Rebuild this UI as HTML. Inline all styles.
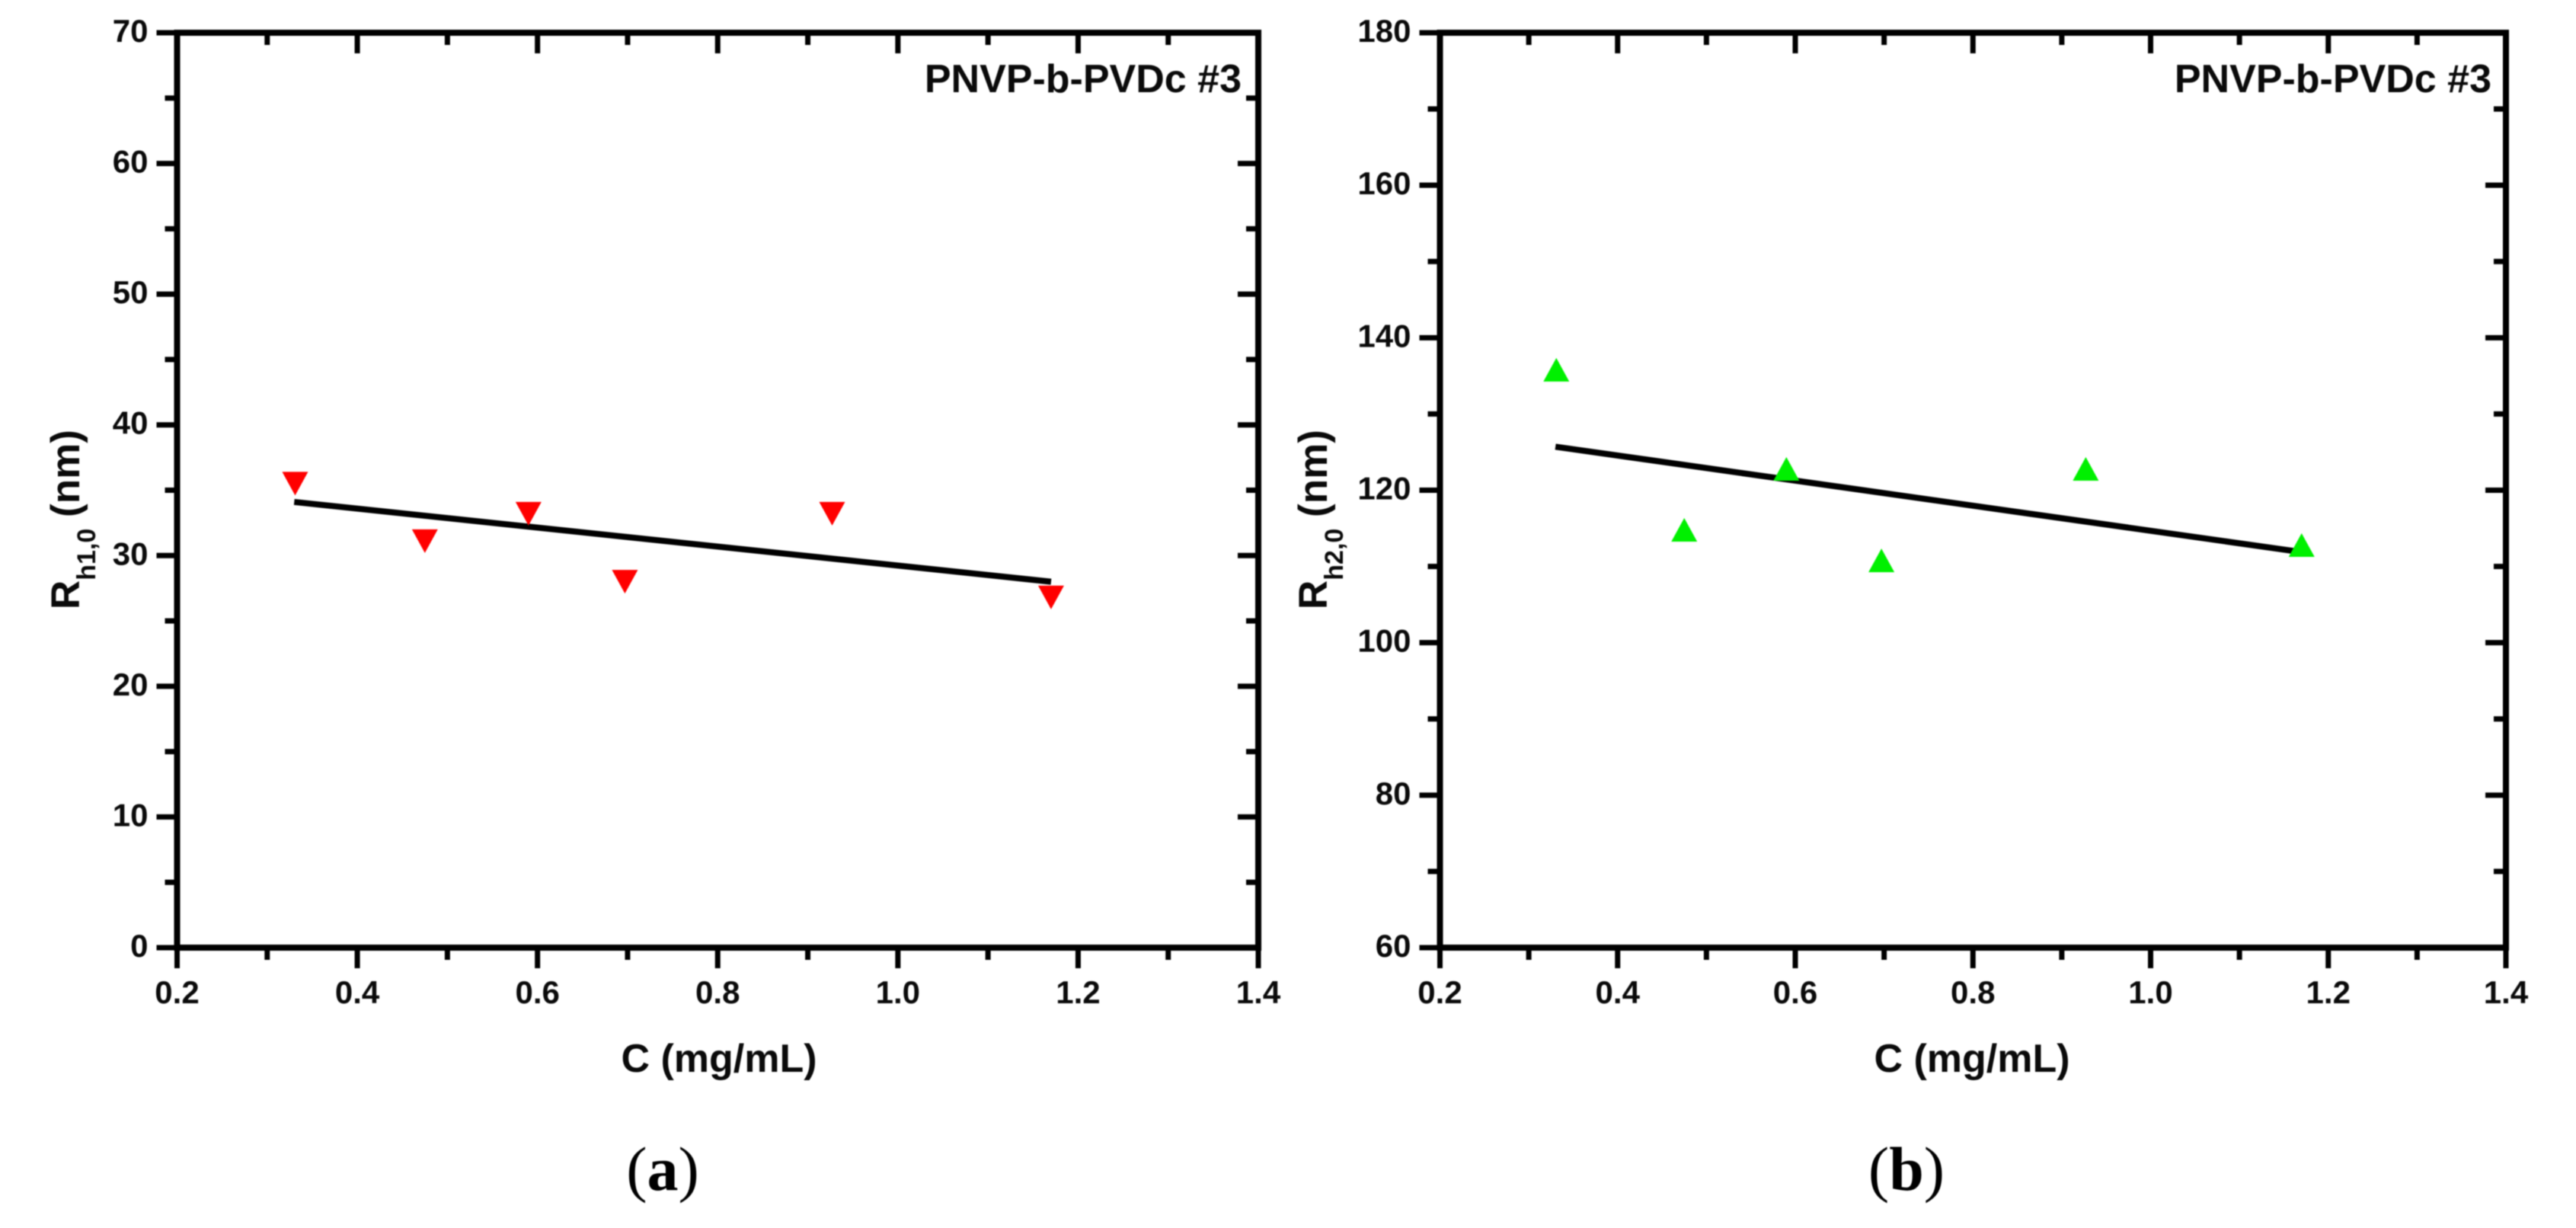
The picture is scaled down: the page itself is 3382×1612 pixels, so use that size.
<!DOCTYPE html>
<html lang="en">
<head>
<meta charset="utf-8">
<title>Rh vs C, PNVP-b-PVDc #3</title>
<style>
html,body{margin:0;padding:0;background:#fff;width:3382px;height:1612px;overflow:hidden}
svg{display:block;filter:blur(0.8px)}
text{font-family:"Liberation Sans",sans-serif;font-weight:700;fill:#0a0a0a}
.tick{font-size:42px}
.title{font-size:52px}
.ytitle{font-size:53px}
.note{font-size:52px}
.cap{font-family:"Liberation Serif",serif;font-size:82px;font-weight:400;fill:#000}
</style>
</head>
<body>
<svg id="fig" xmlns="http://www.w3.org/2000/svg" width="3382" height="1612" viewBox="0 0 3382 1612">
  <rect width="3382" height="1612" fill="#fff"/>
  <g id="panel-a"></g>
  <g id="panel-b"></g>
  <text class="note" x="1630" y="121" text-anchor="end">PNVP-b-PVDc #3</text>
  <text class="note" x="3271" y="121" text-anchor="end">PNVP-b-PVDc #3</text>
  <text class="title" x="944" y="1407" text-anchor="middle">C (mg/mL)</text>
  <text class="title" x="2589" y="1407" text-anchor="middle">C (mg/mL)</text>
  <text class="ytitle" transform="translate(104,800) rotate(-90)">R<tspan font-size="34" dy="21">h1,0</tspan><tspan dy="-21"> (nm)</tspan></text>
  <text class="ytitle" transform="translate(1742,800) rotate(-90)">R<tspan font-size="34" dy="21">h2,0</tspan><tspan dy="-21"> (nm)</tspan></text>
  <text class="cap" x="870" y="1562" text-anchor="middle">(<tspan font-weight="700">a</tspan>)</text>
  <text class="cap" x="2503" y="1562" text-anchor="middle">(<tspan font-weight="700">b</tspan>)</text>
</svg>
<script>
const concentration = [0.331, 0.475, 0.59, 0.697, 0.927, 1.17];
const rh1Values = [35.5, 31.1, 33.2, 28.0, 33.2, 26.8];
const rh2Values = [135.8, 114.8, 122.8, 110.8, 122.8, 112.8];
const fitXA = [0.33, 1.17];
const fitYA = [34.1, 28.0];
const fitXB = [0.33, 1.175];
const fitYB = [125.7, 111.8];
const xTickLabels = ['0.2', '0.4', '0.6', '0.8', '1.0', '1.2', '1.4'];
const yTickLabelsA = ['0', '10', '20', '30', '40', '50', '60', '70'];
const yTickLabelsB = ['60', '80', '100', '120', '140', '160', '180'];

const NS = 'http://www.w3.org/2000/svg';

function mk(parent, tag, attrs) {
  const el = document.createElementNS(NS, tag);
  for (const k in attrs) el.setAttribute(k, attrs[k]);
  parent.appendChild(el);
  return el;
}

function drawPanel(cfg) {
  const g = cfg.group;
  const L = cfg.left, R = cfg.right, T = 43, B = 1244;
  const xTicks = xTickLabels.map(Number);
  const yTicks = cfg.yLabels.map(Number);
  const xMin = xTicks[0], xMax = xTicks[xTicks.length - 1];
  const yMin = yTicks[0], yMax = yTicks[yTicks.length - 1];
  const xs = v => L + (v - xMin) / (xMax - xMin) * (R - L);
  const ys = v => B - (v - yMin) / (yMax - yMin) * (B - T);

  const frame = mk(g, 'rect', {x: L, y: T, width: R - L, height: B - T, fill: 'none', stroke: '#000', 'stroke-width': 8});
  
  

  const stroke = {stroke: '#000', 'stroke-width': 7};
  xTicks.forEach((t, i) => {
    const x = xs(t);
    const bottom = mk(g, 'line', Object.assign({x1: x, x2: x, y1: B, y2: B + 27}, stroke));
    
    
    const top = mk(g, 'line', Object.assign({x1: x, x2: x, y1: T, y2: T + 27}, stroke));
    
    
    const label = mk(g, 'text', {class: 'tick', x: x, y: 1317, 'text-anchor': 'middle'});
    
    
    label.textContent = xTickLabels[i];
    if (i < xTicks.length - 1) {
      const mx = xs((t + xTicks[i + 1]) / 2);
      const minorB = mk(g, 'line', Object.assign({x1: mx, x2: mx, y1: B, y2: B + 16}, stroke));
      
      
      const minorT = mk(g, 'line', Object.assign({x1: mx, x2: mx, y1: T, y2: T + 16}, stroke));
      
      
    }
  });

  yTicks.forEach((t, i) => {
    const y = ys(t);
    const left = mk(g, 'line', Object.assign({x1: L - 27, x2: L, y1: y, y2: y}, stroke));
    
    
    const right = mk(g, 'line', Object.assign({x1: R - 27, x2: R, y1: y, y2: y}, stroke));
    
    
    const label = mk(g, 'text', {class: 'tick', x: L - 38, y: y + 12, 'text-anchor': 'end'});
    
    
    label.textContent = cfg.yLabels[i];
    if (i < yTicks.length - 1) {
      const my = ys((t + yTicks[i + 1]) / 2);
      const minorL = mk(g, 'line', Object.assign({x1: L - 16, x2: L, y1: my, y2: my}, stroke));
      
      
      const minorR = mk(g, 'line', Object.assign({x1: R - 16, x2: R, y1: my, y2: my}, stroke));
      
      
    }
  });

  const fit = mk(g, 'line', {x1: xs(cfg.fitX[0]), y1: ys(cfg.fitY[0]), x2: xs(cfg.fitX[1]), y2: ys(cfg.fitY[1]), stroke: '#000', 'stroke-width': 8});
  
  

  const halfW = 17, halfH = 15.5;
  const dir = cfg.down ? 1 : -1;
  concentration.forEach((c, i) => {
    const cx = xs(c), cy = ys(cfg.values[i]);
    const pts = [
      [cx - halfW, cy - dir * halfH],
      [cx + halfW, cy - dir * halfH],
      [cx, cy + dir * halfH]
    ].map(p => p.join(',')).join(' ');
    const pt = mk(g, 'polygon', {points: pts, fill: cfg.color});
    
    
  });
}

drawPanel({group: document.getElementById('panel-a'), left: 232.5, right: 1652, yLabels: yTickLabelsA, values: rh1Values, fitX: fitXA, fitY: fitYA, color: '#ff0000', down: true});
drawPanel({group: document.getElementById('panel-b'), left: 1890.5, right: 3290, yLabels: yTickLabelsB, values: rh2Values, fitX: fitXB, fitY: fitYB, color: '#00f000', down: false});
</script>
</body>
</html>
